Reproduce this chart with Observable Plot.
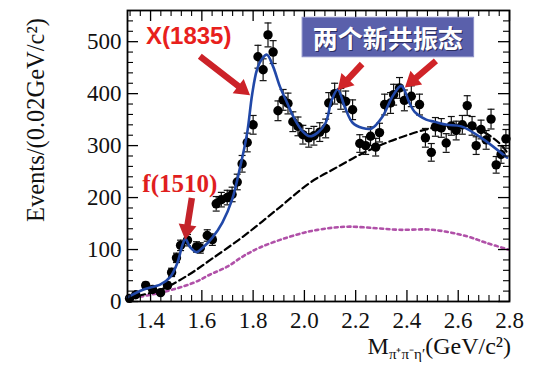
<!DOCTYPE html>
<html><head><meta charset="utf-8">
<script src="https://cdn.jsdelivr.net/npm/d3@7"></script>
<script src="https://cdn.jsdelivr.net/npm/@observablehq/plot@0.6"></script>
<style>body{margin:0;background:#fff}#chart{width:550px;height:376px}</style>
</head><body><div id="chart"></div>
<script>
// measured data points: mass (GeV/c^2), events per 0.02 GeV, error
const mass = [1.318,1.342,1.381,1.408,1.439,1.466,1.482,1.501,1.517,1.544,1.579,1.594,1.621,1.641,1.656,1.676,1.699,1.718,1.738,1.757,1.777,1.800,1.819,1.839,1.858,1.878,1.897,1.917,1.936,1.955,1.975,1.994,2.017,2.037,2.060,2.083,2.095,2.118,2.142,2.161,2.188,2.216,2.239,2.258,2.278,2.293,2.313,2.336,2.348,2.371,2.390,2.417,2.449,2.472,2.495,2.511,2.534,2.553,2.573,2.592,2.616,2.635,2.654,2.670,2.689,2.709,2.728,2.748,2.767,2.786];
const events = [6,13,31,23,17,31,56,84,108,118,105,103,127,119,188,196,200,206,230,265,306,340,471,446,513,480,367,388,381,346,337,321,315,319,326,333,382,400,390,385,369,304,300,318,297,325,379,382,398,411,387,395,379,315,287,336,334,305,338,329,340,377,338,300,331,311,351,263,283,313];
const errors = [2,4,6,5,4,6,8,9,10,11,10,10,11,11,14,14,14,14,15,16,18,18,22,21,23,22,19,20,20,19,18,18,18,18,18,18,20,20,20,20,19,17,17,18,17,18,20,20,20,20,20,20,20,18,17,18,18,18,18,18,18,19,18,17,18,18,19,16,17,18];

// total fit curve (blue)
const fitMass = [1.31,1.373,1.439,1.478,1.505,1.524,1.536,1.555,1.579,1.602,1.641,1.68,1.718,1.75,1.777,1.796,1.815,1.835,1.854,1.878,1.905,1.932,1.963,1.994,2.021,2.052,2.083,2.107,2.13,2.157,2.188,2.227,2.262,2.305,2.344,2.378,2.41,2.43,2.475,2.507,2.557,2.612,2.69,2.79];
const fitEvents = [8,23,33,48,75,108,120,104,95,103,123,152,196,260,325,398,446,467,475,452,413,383,350,327,318,325,344,388,408,375,344,334,333,356,395,415,382,365,350,346,340,337,315,277];

// background (black dashed)
const bkgMass = [1.31,1.44,1.544,1.633,1.761,1.893,2.02,2.111,2.243,2.371,2.50,2.604,2.68,2.76,2.795];
const bkgEvents = [6,23,50,80,125,177,228,254,289,315,334,340,331,305,284];

// other component (purple dotted)
const phsMass = [1.31,1.439,1.567,1.633,1.699,1.761,1.827,1.932,2.021,2.111,2.177,2.28,2.371,2.50,2.63,2.709,2.795];
const phsEvents = [5,17,36,52,67,87,104,123,135,142,144,141,138,138,126,113,100];

// axis ticks
const xTicks = [1.4,1.6,1.8,2.0,2.2,2.4,2.6,2.8];
const xMinor = [1.32,1.36,1.44,1.48,1.52,1.56,1.64,1.68,1.72,1.76,1.84,1.88,1.92,1.96,2.04,2.08,2.12,2.16,2.24,2.28,2.32,2.36,2.44,2.48,2.52,2.56,2.64,2.68,2.72,2.76];
const yTicks = [0,100,200,300,400,500];
const yMinor = [20,40,60,80,120,140,160,180,220,240,260,280,320,340,360,380,420,440,460,480,520,540];

// annotations (data coordinates)
const labelX1835 = {text:"X(1835)", m:1.551, v:507};
const arrowX1835 = {m1:1.594, v1:471, m2:1.79, v2:396};
const labelF1510 = {text:"f(1510)", m:1.516, v:221};
const arrowF1510 = {m1:1.563, v1:198, m2:1.537, v2:118};
const boxText = "两个新共振态";
const boxArea = {m1:1.993, m2:2.662, v1:470, v2:546};
const arrowsNew = [{m1:2.227, v1:456, m2:2.132, v2:406},{m1:2.515, v1:462, m2:2.394, v2:411}];

const pts = mass.map((m,i)=>({m, v:events[i], e:errors[i]}));
const fit = fitMass.map((m,i)=>({m, v:fitEvents[i]}));
const bkg = bkgMass.map((m,i)=>({m, v:bkgEvents[i]}));
const phs = phsMass.map((m,i)=>({m, v:phsEvents[i]}));

const capSymbol = {draw(ctx, size){ const r = Math.sqrt(size/Math.PI); ctx.moveTo(-r,0); ctx.lineTo(r,0); }};

const W = 550, H = 376, mL = 127, mR = 41, mT = 10, mB = 75;
const fw = W-mL-mR, fh = H-mT-mB;

const plot = Plot.plot({
  width: W, height: H,
  marginLeft: mL, marginRight: mR, marginTop: mT, marginBottom: mB,
  style: {fontFamily: "'Liberation Serif', 'DejaVu Serif', serif", fontSize: "23px", color: "#111", background: "#fff"},
  x: {domain: [1.31, 2.8], ticks: xTicks, tickSize: 0, tickPadding: 10, tickFormat: d => d.toFixed(1), label: null},
  y: {domain: [0, 560], ticks: yTicks, tickSize: 0, tickPadding: 6, label: null},
  marks: [
    Plot.line(phs, {x:"m", y:"v", stroke:"#b050a8", strokeWidth:2.6, strokeDasharray:"3,3.5", curve:"catmull-rom"}),
    Plot.line(bkg, {x:"m", y:"v", stroke:"#000", strokeWidth:2.2, strokeDasharray:"7,4", curve:"catmull-rom"}),
    Plot.ruleX(pts, {x:"m", y1: d=>d.v-d.e, y2: d=>d.v+d.e, stroke:"#111", strokeWidth:1.2}),
    Plot.dot(pts, {x:"m", y: d=>d.v+d.e, symbol: capSymbol, r:3.5, stroke:"#111", strokeWidth:1.2}),
    Plot.dot(pts, {x:"m", y: d=>d.v-d.e, symbol: capSymbol, r:3.5, stroke:"#111", strokeWidth:1.2}),
    Plot.dot(pts, {x:"m", y:"v", r:4.7, fill:"#000", stroke:"none"}),
    Plot.line(fit, {x:"m", y:"v", stroke:"#2148a8", strokeWidth:2.6, curve:"catmull-rom"}),
    // inward ticks
    Plot.ruleY(yTicks, {y:d=>d, insetRight: fw-11, stroke:"#000", strokeWidth:1.3}),
    Plot.ruleY(yMinor, {y:d=>d, insetRight: fw-6, stroke:"#000", strokeWidth:1.1}),
    Plot.ruleY(yTicks, {y:d=>d, insetLeft: fw-11, stroke:"#000", strokeWidth:1.3}),
    Plot.ruleY(yMinor, {y:d=>d, insetLeft: fw-6, stroke:"#000", strokeWidth:1.1}),
    Plot.ruleX(xTicks, {x:d=>d, insetTop: fh-11, stroke:"#000", strokeWidth:1.3}),
    Plot.ruleX(xMinor, {x:d=>d, insetTop: fh-6, stroke:"#000", strokeWidth:1.1}),
    Plot.ruleX(xTicks, {x:d=>d, insetBottom: fh-11, stroke:"#000", strokeWidth:1.3}),
    Plot.ruleX(xMinor, {x:d=>d, insetBottom: fh-6, stroke:"#000", strokeWidth:1.1}),
    Plot.frame({stroke:"#000", strokeWidth:1.8})
  ]
});
document.getElementById("chart").appendChild(plot);

const sx = plot.scale("x"), sy = plot.scale("y");
const X = d3.scaleLinear(sx.domain, sx.range), Y = d3.scaleLinear(sy.domain, sy.range);
const svg = d3.select(plot);

// y axis title
svg.append("text").attr("transform", "translate(44,120) rotate(-90)")
  .attr("text-anchor","middle").attr("font-family","'Liberation Serif', serif").attr("font-size",24.5).attr("fill","#111")
  .text("Events/(0.02GeV/c²)");

// x axis title with subscripts
const xt = svg.append("text").attr("x", 511).attr("y", 354).attr("text-anchor","end")
  .attr("font-family","'Liberation Serif', serif").attr("font-size",24).attr("fill","#111");
xt.append("tspan").text("M");
xt.append("tspan").attr("font-size",15).attr("dy",5).text("π⁺π⁻η′");
xt.append("tspan").attr("dy",-5).text("(GeV/c²)");

// block arrows
function blockArrow(a, color){
  const x1=X(a.m1), y1=Y(a.v1), x2=X(a.m2), y2=Y(a.v2);
  const dx=x2-x1, dy=y2-y1, L=Math.hypot(dx,dy), ux=dx/L, uy=dy/L, nx=-uy, ny=ux;
  const hl=15, hw=9, sw=3.2;
  const bx=x2-ux*hl, by=y2-uy*hl;
  const p=[[x1+nx*sw,y1+ny*sw],[bx+nx*sw,by+ny*sw],[bx+nx*hw,by+ny*hw],[x2,y2],[bx-nx*hw,by-ny*hw],[bx-nx*sw,by-ny*sw],[x1-nx*sw,y1-ny*sw]];
  svg.append("polygon").attr("points", p.map(q=>q.join(",")).join(" ")).attr("fill", color);
}
blockArrow(arrowX1835, "#cc2228");
blockArrow(arrowF1510, "#c4232a");
arrowsNew.forEach(a=>blockArrow(a, "#d02428"));

svg.append("text").attr("x", X(labelX1835.m)).attr("y", Y(labelX1835.v)).attr("text-anchor","middle").attr("dominant-baseline","middle")
  .attr("font-family","'Liberation Sans', Arial, sans-serif").attr("font-weight","bold").attr("font-size",24).attr("fill","#e8201c").text(labelX1835.text);
svg.append("text").attr("x", X(labelF1510.m)).attr("y", Y(labelF1510.v)).attr("text-anchor","middle").attr("dominant-baseline","middle")
  .attr("font-family","'Liberation Serif', serif").attr("font-weight","bold").attr("font-size",25).attr("fill","#e01e1e").text(labelF1510.text);

svg.append("rect").attr("x", X(boxArea.m1)).attr("y", Y(boxArea.v2)).attr("width", X(boxArea.m2)-X(boxArea.m1)).attr("height", Y(boxArea.v1)-Y(boxArea.v2))
  .attr("fill","#5a60ab").attr("stroke","#8c90c8").attr("stroke-width",1);
svg.append("text").attr("x", (X(boxArea.m1)+X(boxArea.m2))/2 + 1).attr("y", (Y(boxArea.v1)+Y(boxArea.v2))/2 + 1).attr("text-anchor","middle").attr("dominant-baseline","central")
  .attr("font-family","'Noto Sans CJK SC', sans-serif").attr("font-weight","bold").attr("font-size",25).attr("fill","#2a2d60").text(boxText);
svg.append("text").attr("x", (X(boxArea.m1)+X(boxArea.m2))/2).attr("y", (Y(boxArea.v1)+Y(boxArea.v2))/2).attr("text-anchor","middle").attr("dominant-baseline","central")
  .attr("font-family","'Noto Sans CJK SC', sans-serif").attr("font-weight","bold").attr("font-size",25).attr("fill","#fff").text(boxText);
</script></body></html>
